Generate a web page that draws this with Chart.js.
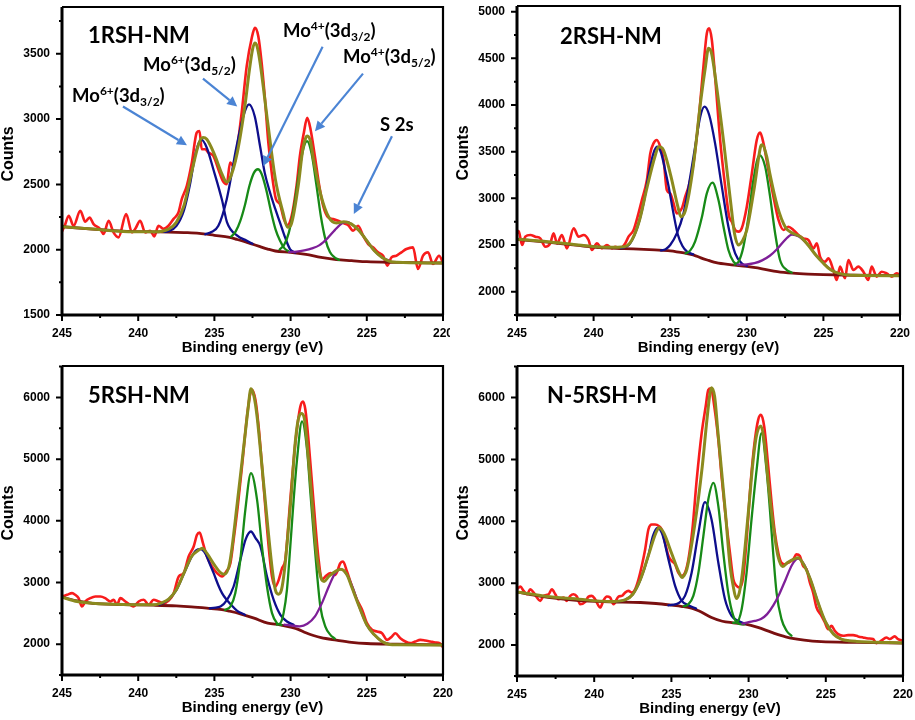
<!DOCTYPE html>
<html>
<head>
<meta charset="utf-8">
<script src="https://cdn.jsdelivr.net/npm/chart.js@4.4.0/dist/chart.umd.min.js"></script>
<style>
  html, body { margin: 0; padding: 0; background: #fff; }
  #wrap { position: relative; width: 915px; height: 720px; overflow: hidden; }
  canvas { position: absolute; }
</style>
</head>
<body>
<div id="wrap">
  <canvas id="c1" width="450" height="360" style="left:0px;top:0px"></canvas>
  <canvas id="c2" width="460" height="360" style="left:455px;top:0px"></canvas>
  <canvas id="c3" width="455" height="360" style="left:0px;top:360px"></canvas>
  <canvas id="c4" width="460" height="360" style="left:455px;top:360px"></canvas>
</div>
<script>
// axis ticks (binding energy, eV)
const xTicks = [245, 240, 235, 230, 225, 220];
const xMinor = [242.5, 237.5, 232.5, 227.5, 222.5];

// y ticks per panel
const p1YTicks = [1500, 2000, 2500, 3000, 3500];
const p1YMinor = [1750, 2250, 2750, 3250, 3750];
const p2YTicks = [2000, 2500, 3000, 3500, 4000, 4500, 5000];
const p2YMinor = [1750, 2250, 2750, 3250, 3750, 4250, 4750];
const p3YTicks = [2000, 3000, 4000, 5000, 6000];
const p3YMinor = [1500, 2500, 3500, 4500, 5500, 6500];

// ---- 1RSH-NM ----
const p1Raw = [[245,2140],[244.8,2190],[244.56,2260],[244.24,2183],[243.8,2298],[243.47,2214],[243.19,2247],[242.93,2196],[242.49,2158],[242.27,2120],[241.94,2221],[241.62,2132],[241.29,2094],[240.79,2272],[240.41,2132],[240.2,2158],[239.87,2221],[239.54,2132],[239.21,2145],[238.95,2102],[238.67,2183],[238.34,2160],[238.01,2183],[237.69,2234],[237.36,2285],[237.14,2387],[236.81,2489],[236.48,2667],[236.16,2896],[235.98,2909],[235.83,2769],[235.61,2769],[235.39,2743],[235.07,2718],[234.74,2616],[234.45,2527],[234.19,2501],[233.97,2667],[233.76,2641],[233.49,2794],[233.21,3049],[232.88,3405],[232.55,3621],[232.34,3698],[232.12,3634],[231.9,3430],[231.68,3150],[231.46,2819],[231.24,2590],[230.96,2387],[230.7,2349],[230.44,2234],[230.22,2188],[229.93,2260],[229.61,2489],[229.39,2718],[229.13,2896],[228.91,3010],[228.69,2921],[228.41,2718],[228.12,2489],[227.86,2336],[227.53,2247],[227.21,2234],[226.88,2221],[226.55,2204],[226.22,2188],[225.9,2145],[225.57,2183],[225.24,2107],[224.91,2043],[224.59,2018],[224.26,1980],[223.93,1954],[223.65,1878],[223.38,1941],[223.06,1954],[222.73,1980],[222.4,2005],[221.97,2018],[221.64,1852],[221.31,1954],[220.98,1980],[220.66,1891],[220.26,1954],[220,1903]];
const p1Env = [[245,2176],[243,2158],[241,2140],[239,2137],[238,2158],[237.5,2209],[237,2336],[236.5,2590],[236,2819],[235.75,2858],[235.5,2845],[235,2730],[234.5,2578],[234.2,2519],[234,2540],[233.5,2743],[233,3099],[232.7,3379],[232.5,3532],[232.35,3583],[232.2,3557],[232,3430],[231.5,2972],[231,2540],[230.5,2285],[230.2,2171],[230,2183],[229.5,2489],[229.2,2769],[229,2858],[228.9,2870],[228.7,2832],[228.5,2692],[228,2412],[227.5,2250],[227,2204],[226.5,2214],[226,2196],[225.5,2145],[225,2069],[224.5,1992],[224,1941],[223.5,1911],[223,1903],[221,1898],[220,1898]];
const p1Bg = [[245,2176],[243,2158],[241,2142],[239,2137],[238,2135],[237,2131],[236,2125],[235,2110],[234,2094],[233.5,2078],[233,2061],[232.5,2042],[232,2023],[231.5,2005],[231,1990],[230,1980],[229,1964],[228,1941],[227,1924],[226,1916],[225,1908],[223,1903],[220,1898]];
const p1C1 = [[238.3,2136],[238,2142],[237.5,2180],[237,2300],[236.6,2500],[236.3,2700],[236.05,2810],[235.83,2840],[235.5,2780],[235.07,2616],[234.5,2380],[234.17,2209],[233.5,2107],[232.9,2070],[232.5,2045]];
const p1C2 = [[235.6,2118],[235.2,2135],[234.74,2183],[234.19,2387],[233.54,2794],[233.1,3023],[232.73,3112],[232.35,3020],[232,2790],[231.7,2590],[231.35,2438],[231,2310],[230.7,2209],[230.35,2090],[230.04,2005],[229.7,1978]];
const p1C3 = [[233.9,2100],[233.6,2140],[233.3,2220],[233,2340],[232.7,2490],[232.4,2590],[232.15,2616],[231.9,2580],[231.6,2460],[231.3,2300],[231,2160],[230.7,2070],[230.4,2010],[230.1,1985]];
const p1C4 = [[230.72,2002],[230.42,2038],[230.12,2129],[229.82,2297],[229.52,2529],[229.22,2745],[228.92,2831],[228.62,2734],[228.32,2507],[228.02,2260],[227.72,2081],[227.42,1982],[227.12,1942],[226.82,1922]];
const p1C5 = [[230.1,1982],[229.6,1985],[229.1,1995],[228.6,2010],[228.1,2035],[227.6,2085],[227.1,2150],[226.6,2205],[226.3,2212],[226,2196],[225.5,2145],[225,2069],[224.5,1992],[224,1941],[223.5,1915]];

// ---- 2RSH-NM ----
const p2Raw = [[245,2625],[244.89,2650],[244.67,2500],[244.46,2589],[244.13,2607],[243.8,2589],[243.48,2571],[243.15,2482],[242.83,2518],[242.61,2625],[242.39,2518],[242.07,2607],[241.74,2464],[241.3,2679],[240.98,2589],[240.65,2607],[240.33,2554],[240.11,2446],[239.78,2518],[239.46,2464],[239.13,2500],[238.8,2464],[238.59,2482],[238.26,2464],[237.93,2518],[237.72,2589],[237.39,2661],[237.07,2839],[236.85,2982],[236.52,3196],[236.3,3482],[236.09,3589],[235.87,3625],[235.65,3554],[235.43,3411],[235.22,3089],[235,3054],[234.78,2946],[234.57,2839],[234.24,2893],[234.02,3018],[233.8,3125],[233.48,3375],[233.15,3839],[232.83,4411],[232.61,4768],[232.46,4821],[232.28,4696],[232.07,4304],[231.74,3625],[231.41,3125],[231.15,2804],[230.98,2750],[230.76,2661],[230.54,2643],[230.33,2679],[230,2911],[229.67,3268],[229.35,3625],[229.13,3704],[228.91,3589],[228.59,3304],[228.26,3018],[227.93,2768],[227.61,2661],[227.28,2696],[226.96,2661],[226.63,2607],[226.3,2571],[225.98,2554],[225.65,2464],[225.43,2518],[225.22,2375],[224.89,2321],[224.67,2357],[224.35,2232],[224.13,2125],[223.91,2268],[223.59,2143],[223.37,2339],[223.04,2232],[222.72,2268],[222.39,2214],[222.07,2125],[221.85,2268],[221.52,2161],[221.2,2214],[220.87,2196],[220.54,2161],[220.22,2196],[220,2179]];
const p2Env = [[245,2561],[243,2536],[241,2500],[239,2475],[238,2482],[237.5,2554],[237,2768],[236.5,3125],[236,3446],[235.75,3553],[235.5,3536],[235,3268],[234.5,2911],[234.3,2803],[234,2875],[233.5,3339],[233,4054],[232.7,4411],[232.5,4607],[232.3,4553],[232,4232],[231.5,3589],[231,2880],[230.8,2620],[230.55,2500],[230.3,2540],[230,2661],[229.5,3125],[229.1,3553],[229,3575],[228.7,3446],[228.5,3268],[228,2911],[227.5,2696],[227,2625],[226.5,2589],[226,2500],[225.5,2393],[225,2304],[224.5,2232],[224,2196],[223,2175],[220,2171]];
const p2Bg = [[245,2561],[243,2530],[241,2495],[239.5,2472],[238,2462],[236,2448],[235,2438],[234,2412],[233.5,2395],[233,2362],[232.5,2335],[232,2310],[231,2287],[230,2270],[229,2245],[228,2215],[227,2198],[226,2188],[225,2182],[223,2176],[220,2172]];
const p2C1 = [[238.2,2465],[237.7,2500],[237.3,2620],[237,2768],[236.7,2980],[236.4,3260],[236.1,3480],[235.85,3553],[235.6,3490],[235.3,3280],[235.1,3125],[234.8,2850],[234.5,2610],[234.2,2490],[233.9,2430],[233.5,2400]];
const p2C2 = [[235.6,2442],[235.3,2455],[235,2500],[234.57,2625],[234.13,2839],[233.8,3125],[233.37,3554],[233.04,3875],[232.76,3982],[232.45,3890],[232.07,3589],[231.63,3125],[231.2,2696],[230.76,2411],[230.33,2304],[230,2275]];
const p2C3 = [[234,2410],[233.7,2440],[233.37,2540],[232.93,2800],[232.61,3054],[232.24,3168],[231.85,2982],[231.52,2696],[231.2,2446],[230.87,2321],[230.5,2285]];
const p2C4 = [[230.8,2290],[230.54,2321],[230.22,2482],[229.89,2804],[229.57,3196],[229.17,3464],[228.8,3339],[228.48,3018],[228.15,2625],[227.83,2339],[227.39,2232],[227.07,2204]];
const p2C5 = [[230.6,2290],[230,2293],[229.5,2305],[229,2335],[228.5,2385],[228,2460],[227.5,2555],[227.05,2612],[226.6,2590],[226,2500],[225.5,2395],[225,2305],[224.5,2235],[224,2196],[223.5,2182]];

// ---- 5RSH-NM ----
const p3Raw = [[245,2773],[244.67,2800],[244.34,2827],[244.13,2800],[243.91,2746],[243.69,2611],[243.47,2692],[243.14,2746],[242.81,2773],[242.48,2773],[242.16,2746],[241.83,2692],[241.61,2719],[241.39,2638],[241.17,2746],[240.84,2692],[240.52,2638],[240.3,2611],[239.97,2692],[239.64,2719],[239.31,2638],[238.99,2719],[238.66,2692],[238.33,2665],[238,2705],[237.67,2827],[237.34,3097],[237.02,3151],[236.69,3422],[236.36,3584],[236.14,3773],[235.97,3811],[235.75,3638],[235.49,3422],[235.16,3259],[234.83,3151],[234.5,3097],[234.22,3178],[233.95,3313],[233.74,3692],[233.47,4232],[233.19,4881],[232.86,5692],[232.64,6070],[232.53,6124],[232.31,5962],[232.1,5530],[231.77,4557],[231.44,3584],[231.22,3097],[231,2935],[230.78,3043],[230.56,3232],[230.35,3367],[230.02,4340],[229.69,5259],[229.36,5854],[229.19,5935],[229.03,5800],[228.81,5259],[228.49,4286],[228.16,3367],[227.94,3043],[227.72,3097],[227.39,3151],[227.06,3124],[226.74,3313],[226.56,3340],[226.3,3178],[225.97,2935],[225.64,2719],[225.31,2557],[224.99,2341],[224.66,2232],[224.33,2205],[224,2178],[223.67,2070],[223.35,2124],[223.13,2178],[222.8,2097],[222.47,2043],[222.14,2016],[221.82,2043],[221.49,2070],[221.17,2059],[220.83,2043],[220.5,2027],[220.22,2016],[220,1951]];
const p3Env = [[245,2762],[244,2692],[243,2665],[241,2643],[239,2638],[238.5,2665],[238,2730],[237.5,2881],[237,3151],[236.5,3422],[236,3530],[235.8,3557],[235.5,3476],[235,3286],[234.6,3160],[234.35,3135],[234,3313],[233.5,4286],[233,5367],[232.8,5800],[232.6,6140],[232.4,6016],[232.2,5692],[232,5205],[231.5,3908],[231.2,3205],[231,2881],[230.8,2811],[230.6,2881],[230.4,3205],[230,4286],[229.7,5259],[229.5,5638],[229.3,5740],[229.1,5665],[228.9,5205],[228.6,4340],[228.3,3476],[228,3070],[227.8,3016],[227.5,3097],[227,3189],[226.7,3216],[226.3,3124],[226,2935],[225.5,2611],[225,2313],[224.5,2151],[224,2043],[223.5,1995],[223,1990],[221,1988],[220,1988]];
const p3Bg = [[245,2762],[244,2700],[243,2660],[241,2642],[239,2632],[237.5,2620],[236.5,2605],[235.5,2584],[234.5,2560],[234,2535],[233.3,2492],[232.4,2422],[231.5,2340],[230.7,2314],[230,2275],[229.5,2240],[229,2185],[228.5,2140],[228,2105],[227,2065],[226,2030],[225,2011],[223,2000],[220,1988]];
const p3C1 = [[238.6,2640],[238,2725],[237.5,2875],[237,3145],[236.5,3415],[236.2,3520],[235.9,3540],[235.6,3470],[235.3,3300],[235.05,3151],[234.75,2960],[234.5,2827],[234.2,2720],[233.95,2650],[233.5,2540],[233,2478]];
const p3C2 = [[235.3,2580],[235.05,2590],[234.6,2611],[234.17,2719],[233.74,2935],[233.3,3367],[232.95,3700],[232.6,3827],[232.3,3720],[231.98,3584],[231.55,3097],[231.11,2719],[230.67,2476],[230.24,2368],[229.8,2313]];
const p3C3 = [[234.3,2555],[233.95,2611],[233.63,2827],[233.3,3367],[232.97,4178],[232.6,4773],[232.2,4340],[231.88,3584],[231.55,2935],[231.22,2503],[230.89,2341],[230.6,2310]];
const p3C4 = [[230.9,2318],[230.67,2341],[230.46,2503],[230.24,2881],[230.02,3584],[229.8,4340],[229.58,4989],[229.25,5611],[228.92,5151],[228.7,4448],[228.49,3800],[228.27,3151],[228.05,2611],[227.72,2286],[227.39,2151],[227.1,2090]];
const p3C5 = [[230.4,2318],[229.9,2300],[229.4,2290],[228.9,2330],[228.4,2450],[227.9,2690],[227.5,2930],[227.1,3140],[226.7,3216],[226.3,3124],[225.9,2900],[225.5,2611],[225,2313],[224.5,2151],[224,2043],[223.5,2000]];

// ---- N-5RSH-M ----
const p4Raw = [[245,2902],[244.78,2945],[244.57,2875],[244.35,2821],[244.14,2902],[243.92,2848],[243.71,2768],[243.49,2714],[243.28,2795],[242.95,2821],[242.74,2902],[242.52,2821],[242.31,2741],[241.98,2768],[241.77,2714],[241.55,2795],[241.34,2821],[241.12,2784],[240.91,2660],[240.58,2698],[240.37,2784],[240.15,2795],[239.94,2741],[239.61,2607],[239.4,2720],[239.18,2784],[238.97,2768],[238.75,2660],[238.43,2784],[238.21,2795],[238,2848],[237.78,2875],[237.56,2848],[237.35,2902],[237.13,3063],[236.92,3278],[236.7,3546],[236.49,3868],[236.27,3949],[236.06,3949],[235.8,3922],[235.63,3868],[235.41,3654],[235.19,3439],[234.98,3358],[234.76,3305],[234.55,3170],[234.33,3117],[234.12,3170],[233.9,3385],[233.64,3868],[233.36,4674],[233.04,5425],[232.78,5855],[232.61,6123],[232.44,6150],[232.22,5855],[231.96,5318],[231.75,4727],[231.49,4083],[231.21,3493],[230.99,3063],[230.78,2956],[230.56,2929],[230.34,3117],[230.13,3707],[229.85,4674],[229.59,5318],[229.38,5640],[229.2,5721],[228.99,5533],[228.73,4888],[228.51,4298],[228.3,3815],[228.08,3493],[227.87,3331],[227.65,3305],[227.44,3331],[227.11,3385],[226.9,3466],[226.68,3439],[226.47,3278],[226.25,3224],[226.03,3009],[225.82,2848],[225.6,2607],[225.28,2472],[225.06,2365],[224.85,2258],[224.63,2311],[224.42,2231],[224.2,2177],[223.88,2150],[223.56,2161],[223.23,2161],[222.91,2140],[222.59,2123],[222.26,2107],[221.94,2097],[221.72,2032],[221.4,2070],[221.08,2123],[220.86,2097],[220.54,2140],[220.32,2097],[220,2070]];
const p4Env = [[245,2859],[244,2821],[243,2784],[241,2741],[239,2703],[238,2730],[237.5,2821],[237,3063],[236.5,3439],[236,3815],[235.8,3895],[235.5,3815],[235,3493],[234.5,3170],[234.3,3090],[234.2,3117],[234,3224],[233.5,3922],[233,4888],[232.7,5640],[232.5,6070],[232.4,6160],[232.2,6016],[232,5479],[231.5,4137],[231.2,3278],[231,2956],[230.8,2752],[230.6,2848],[230.4,3170],[230,4190],[229.7,4996],[229.5,5372],[229.2,5540],[229,5318],[228.7,4566],[228.4,3922],[228.1,3439],[227.8,3270],[227.5,3331],[227,3396],[226.8,3412],[226.5,3331],[226,3063],[225.5,2687],[225,2365],[224.5,2177],[224,2097],[223.5,2070],[223,2059],[221,2040],[220,2035]];
const p4Bg = [[245,2859],[244,2810],[243,2770],[241,2720],[239,2700],[237,2688],[236,2672],[235,2645],[234.3,2623],[233.7,2595],[233.2,2550],[232.4,2446],[231.7,2385],[231,2360],[230.2,2338],[229.4,2285],[228.5,2204],[227.6,2134],[226.4,2080],[225.3,2054],[223,2043],[220,2032]];
const p4C1 = [[238.5,2705],[238,2730],[237.5,2821],[237,3063],[236.5,3439],[236.2,3760],[235.9,3895],[235.6,3800],[235.19,3385],[234.76,2956],[234.33,2714],[233.9,2644],[233.4,2590]];
const p4C2 = [[235.2,2642],[234.98,2650],[234.55,2675],[234.12,2795],[233.69,3170],[233.25,3815],[232.83,4309],[232.4,4030],[231.96,3331],[231.53,2741],[231.1,2472],[230.67,2392],[230.24,2345]];
const p4C3 = [[234.2,2628],[233.9,2660],[233.58,2795],[233.25,3170],[232.93,3761],[232.61,4352],[232.28,4620],[231.96,4244],[231.64,3493],[231.32,2848],[230.99,2472],[230.67,2350],[230.3,2335]];
const p4C4 = [[231,2360],[230.78,2365],[230.45,2580],[230.13,3170],[229.81,4030],[229.48,4835],[229.16,5425],[228.84,4835],[228.62,4190],[228.41,3493],[228.19,2848],[227.87,2419],[227.54,2231],[227.22,2150]];
const p4C5 = [[230.4,2345],[230,2370],[229.6,2390],[229.2,2420],[228.8,2500],[228.4,2640],[228,2830],[227.6,3060],[227.2,3290],[226.8,3396],[226.4,3300],[226,3063],[225.6,2760],[225.2,2470],[224.8,2280],[224.4,2160],[224,2097],[223.5,2065]];

// peak labels in the first panel: [text, 0 normal / 1 sup / -1 sub]
const annoLabels = [
  [['Mo',0],['6+',1],['(3d',0],['3/2',-1],[')',0]],
  [['Mo',0],['6+',1],['(3d',0],['5/2',-1],[')',0]],
  [['Mo',0],['4+',1],['(3d',0],['3/2',-1],[')',0]],
  [['Mo',0],['4+',1],['(3d',0],['5/2',-1],[')',0]],
  [['S 2s',0]]
];
const annoPos = [[244.34,3134],[239.68,3365],[230.5,3632],[226.56,3429],[224.13,2908]];
const arrowFrom = [[241.0,3096],[235.75,3310],[227.9,3553],[225.25,3348],[223.35,2868]];
const arrowTo = [[236.8,2800],[233.5,3096],[231.8,2640],[228.4,2906],[225.85,2274]];

const RED = '#f81c1c', OLIVE = '#8b8a1e', NAVY = '#0e0e8c', GREEN = '#178a17',
      PURPLE = '#7e1f98', MAROON = '#7a1010', ARROW = '#4b84d4';

const panels = [
  {id:'c1', title:'1RSH-NM', raw:p1Raw, env:p1Env, bg:p1Bg, comps:[p1C1,p1C2,p1C3,p1C4,p1C5],
   yMin:1500, yMax:3858, yTicks:p1YTicks, yMinor:p1YMinor, top:7, right:7, xh:45, tdx:26, tdy:36, notes:true},
  {id:'c2', title:'2RSH-NM', raw:p2Raw, env:p2Env, bg:p2Bg, comps:[p2C1,p2C2,p2C3,p2C4,p2C5],
   yMin:1750, yMax:5061, yTicks:p2YTicks, yMinor:p2YMinor, top:6, right:15, xh:45, tdx:43, tdy:38},
  {id:'c3', title:'5RSH-NM', raw:p3Raw, env:p3Env, bg:p3Bg, comps:[p3C1,p3C2,p3C3,p3C4,p3C5],
   yMin:1500, yMax:6510, yTicks:p3YTicks, yMinor:p3YMinor, top:6, right:12, xh:45, tdx:26, tdy:37},
  {id:'c4', title:'N-5RSH-M', raw:p4Raw, env:p4Env, bg:p4Bg, comps:[p4C1,p4C2,p4C3,p4C4,p4C5],
   yMin:1500, yMax:6510, yTicks:p3YTicks, yMinor:p3YMinor, top:6, right:12, xh:44, tdx:30, tdy:37}
];

function drawRich(ctx, parts, x, y) {
  let cx = x;
  parts.forEach(([t, k]) => {
    ctx.font = k === 0 ? 'bold 18.5px Lato' : 'bold 12px Lato';
    const dy = k === 1 ? -7 : (k === -1 ? 4 : 0);
    ctx.fillText(t, cx, y + dy);
    cx += ctx.measureText(t).width;
  });
}

function drawArrow(ctx, x1, y1, x2, y2) {
  const a = Math.atan2(y2 - y1, x2 - x1), L = 10, W = 5;
  const bx = x2 - L * Math.cos(a), by = y2 - L * Math.sin(a);
  ctx.beginPath();
  ctx.moveTo(x1, y1);
  ctx.lineTo(bx, by);
  ctx.stroke();
  ctx.beginPath();
  ctx.moveTo(x2, y2);
  ctx.lineTo(bx + W * Math.sin(a), by - W * Math.cos(a));
  ctx.lineTo(bx - W * Math.sin(a), by + W * Math.cos(a));
  ctx.closePath();
  ctx.fill();
}

function line(data, color, width) {
  return {data: data, borderColor: color, borderWidth: width, pointRadius: 0, fill: false,
          cubicInterpolationMode: 'monotone', borderJoinStyle: 'round', borderCapStyle: 'round'};
}

panels.forEach(p => {
  const framePlugin = {
    id: 'frame',
    afterDraw(chart) {
      const ctx = chart.ctx, a = chart.chartArea;
      const xs = chart.scales.x, ys = chart.scales.y;
      ctx.save();
      ctx.strokeStyle = '#000';
      ctx.fillStyle = '#000';
      // frame
      ctx.lineWidth = 2.2;
      ctx.beginPath();
      ctx.moveTo(a.left, a.top); ctx.lineTo(a.right, a.top); ctx.lineTo(a.right, a.bottom);
      ctx.stroke();
      ctx.lineWidth = 3;
      ctx.beginPath();
      ctx.moveTo(a.left, a.top); ctx.lineTo(a.left, a.bottom); ctx.lineTo(a.right, a.bottom);
      ctx.stroke();
      // ticks
      ctx.lineWidth = 2;
      ctx.beginPath();
      xTicks.forEach(v => { const x = xs.getPixelForValue(v); ctx.moveTo(x, a.bottom); ctx.lineTo(x, a.bottom + 6); });
      xMinor.forEach(v => { const x = xs.getPixelForValue(v); ctx.moveTo(x, a.bottom); ctx.lineTo(x, a.bottom + 3); });
      p.yTicks.forEach(v => { const y = ys.getPixelForValue(v); ctx.moveTo(a.left, y); ctx.lineTo(a.left - 6, y); });
      p.yMinor.forEach(v => {
        if (v < p.yMin || v > p.yMax) return;
        const y = ys.getPixelForValue(v); ctx.moveTo(a.left, y); ctx.lineTo(a.left - 3, y);
      });
      ctx.stroke();
      // axis titles
      ctx.textAlign = 'center';
      ctx.textBaseline = 'middle';
      ctx.font = 'bold 15px "Liberation Sans", Arial, sans-serif';
      ctx.fillText('Binding energy (eV)', (a.left + a.right) / 2, a.bottom + 33);
      ctx.save();
      ctx.translate(a.left - 53, a.top + 147);
      ctx.rotate(-Math.PI / 2);
      ctx.font = 'bold 16px "Liberation Sans", Arial, sans-serif';
      ctx.fillText('Counts', 0, 0);
      ctx.restore();
      // panel title
      ctx.textAlign = 'left';
      ctx.textBaseline = 'alphabetic';
      ctx.font = 'bold 22px Lato';
      ctx.fillText(p.title, a.left + p.tdx, a.top + p.tdy);
      // peak labels and arrows
      if (p.notes) {
        annoLabels.forEach((parts, i) => {
          drawRich(ctx, parts, xs.getPixelForValue(annoPos[i][0]), ys.getPixelForValue(annoPos[i][1]));
        });
        ctx.strokeStyle = ARROW;
        ctx.fillStyle = ARROW;
        ctx.lineWidth = 2.2;
        arrowFrom.forEach((f, i) => {
          drawArrow(ctx, xs.getPixelForValue(f[0]), ys.getPixelForValue(f[1]),
                    xs.getPixelForValue(arrowTo[i][0]), ys.getPixelForValue(arrowTo[i][1]));
        });
      }
      ctx.restore();
    }
  };

  const tickFont = {family: '"Liberation Sans", Arial, sans-serif', size: 12, weight: 'bold'};
  new Chart(document.getElementById(p.id), {
    type: 'line',
    data: {
      datasets: [
        line(p.env, OLIVE, 3),
        line(p.comps[4], PURPLE, 2.3),
        line(p.comps[3], GREEN, 2.3),
        line(p.comps[2], GREEN, 2.3),
        line(p.comps[1], NAVY, 2.3),
        line(p.comps[0], NAVY, 2.3),
        line(p.bg, MAROON, 2.8),
        line(p.raw, RED, 2.6)
      ]
    },
    options: {
      responsive: false,
      animation: false,
      devicePixelRatio: 1,
      layout: {padding: {top: p.top, right: p.right, left: 0, bottom: 0}},
      plugins: {legend: {display: false}, tooltip: {enabled: false}},
      scales: {
        x: {
          type: 'linear', reverse: true, min: 220, max: 245,
          grid: {display: false, drawTicks: false}, border: {display: false},
          afterBuildTicks: s => { s.ticks = xTicks.map(v => ({value: v})); },
          afterFit: s => { s.height = p.xh; s.paddingLeft = 0; s.paddingRight = 0; },
          ticks: {padding: 11, font: tickFont, color: '#000', maxRotation: 0, autoSkip: false,
                  callback: v => String(v)}
        },
        y: {
          type: 'linear', min: p.yMin, max: p.yMax,
          grid: {display: false, drawTicks: false}, border: {display: false},
          afterBuildTicks: s => { s.ticks = p.yTicks.map(v => ({value: v})); },
          afterFit: s => { s.width = 62; s.paddingTop = 0; s.paddingBottom = 0; },
          ticks: {padding: 12, font: tickFont, color: '#000', autoSkip: false,
                  callback: v => String(v)}
        }
      }
    },
    plugins: [framePlugin]
  });
});
</script>
</body>
</html>
